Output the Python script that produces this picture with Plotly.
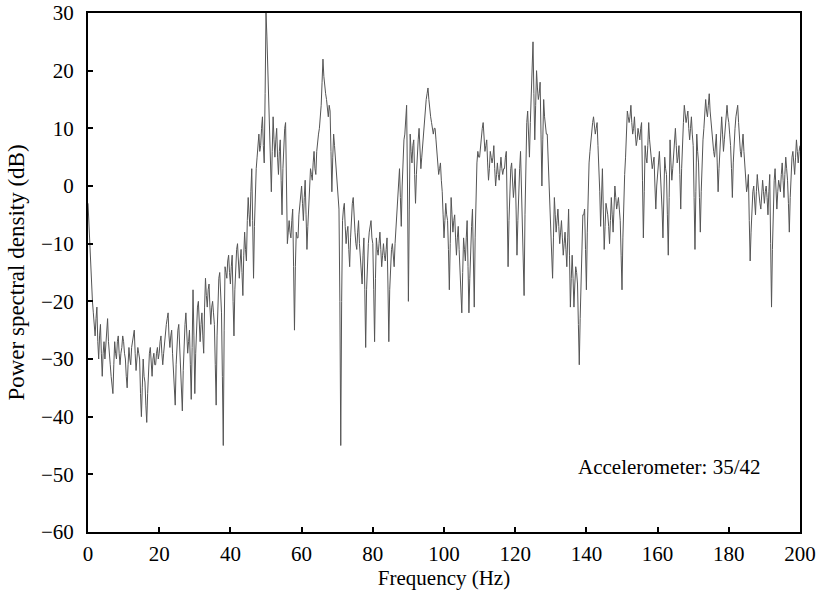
import plotly.graph_objects as go

# Power spectral density (dB).
# psd_db_a: samples at 0, 0.5, 1.0 ... 200 Hz (10 values per 5 Hz block)
psd_db_a = [
    -3, -11, -17, -22, -26, -21, -30, -24, -33, -27,      # 0
    -28, -23, -30, -33, -36, -27, -30, -26, -31, -28,     # 5
    -27, -30, -35, -28, -31, -27, -25, -32, -28, -30,     # 10
    -40, -30, -34, -41, -31, -28, -33, -29, -31, -28,     # 15
    -29, -26, -31, -27, -24, -22, -28, -25, -33, -38,     # 20
    -27, -24, -30, -39, -26, -22, -29, -25, -37, -18,     # 25
    -36, -24, -20, -27, -22, -29, -16, -21, -17, -24,     # 30
    -20, -24, -38, -18, -15, -22, -45, -14, -16, -12,     # 35
    -17, -12, -26, -13, -10, -16, -11, -19, -8, -13,      # 40
    -2, -7, 3, -16, -1, 5, 9, 7, 12, 4,                   # 45
    30, 20, 9, -1, 12, 5, 10, 2, 8, -5,                   # 50
    9, 11, -10, -6, -9, -4, -25, -8, -9, -3,              # 55
    0, -6, 1, -11, -4, 3, 1, 6, 2, 8,                     # 60
    10, 14, 22, 17, 15, 12, 13, -1, 9, 5,                 # 65
    1, -4, -45, -6, -3, -10, -7, -14, -5, -2,             # 70
    -8, -11, -6, -13, -17, -9, -28, -12, -8, -6,          # 75
    -10, -27, -9, -12, -8, -14, -10, -13, -9, -27,        # 80
    -12, -10, -14, -7, -3, 3, -7, 6, 9, 14,               # 85
    -20, 9, 4, 8, -3, 6, 10, 3, 7, 12,                    # 90
    15, 17, 13, 11, 9, 10, 6, 2, 4, -1,                   # 95
    -9, -3, -6, -18, -2, -8, -5, -12, -7, -15,            # 100
    -22, -9, -13, -6, -22, -10, -4, -21, 2, 6,            # 105
    5, 9, 11, 6, 8, 1, 6, 4, 7, 0,                        # 110
    4, 1, 5, 2, 3, 6, -14, 1, 4, -2,                      # 115
    3, -12, 0, 6, -5, -19, 8, 13, 5, 17,                  # 120
    25, 8, 20, 15, 18, 0, 15, 10, 9, 2,                   # 125
    -5, -16, -2, -8, -4, -10, -6, -12, -8, -14,           # 130
    -4, -21, -12, -21, -14, -17, -31, -15, -5, -4,        # 135
    -18, 2, 6, 10, 12, 9, 11, 4, -7, 3,                   # 140
    -11, -3, -5, -10, -2, -8, 0, -4, -2, -6,              # 145
    -18, -1, 5, 13, 11, 14, 9, 12, 7, 10,                 # 150
    8, 11, -9, 7, 4, 11, 6, 3, 5, -4,                     # 155
    3, 6, 1, -9, 5, 2, -12, 8, 1, 6,                      # 160
    10, 4, 7, -4, 9, 14, 11, 13, 8, 12,                   # 165
    7, -11, 9, 4, -8, 6, 10, 15, 12, 16,                  # 170
    11, 8, 5, 9, -1, 7, 12, 6, 10, 14,                    # 175
    11, 7, -2, 9, 12, 14, 8, 5, 9, 3,                     # 180
    -1, 2, -13, -3, 0, -5, 2, -2, -4, 1,                  # 185
    -3, 0, -5, 2, -21, -2, 3, -4, 1, -1,                  # 190
    4, -2, 5, 1, -8, 3, 6, 2, 8, 4,                       # 195
    7,                                                    # 200
]
# psd_db_b: samples at 0.25, 0.75, 1.25 ... 199.75 Hz
psd_db_b = [
    -7, -15, -20, -25, -23, -27, -26, -29, -29, -30,      # 0
    -25, -27, -31, -35, -31, -29, -27, -29, -29, -26,     # 5
    -29, -33, -31, -30, -28, -26, -29, -30, -29, -36,     # 10
    -35, -33, -38, -36, -29, -31, -30, -31, -29, -30,     # 15
    -27, -29, -29, -25, -23, -26, -26, -29, -36, -31,     # 20
    -25, -28, -35, -32, -24, -26, -27, -31, -28, -26,     # 25
    -29, -21, -24, -24, -26, -21, -19, -18, -21, -21,     # 30
    -22, -31, -26, -16, -19, -33, -25, -15, -13, -15,     # 35
    -14, -20, -18, -11, -13, -13, -15, -12, -11, -6,      # 40
    -5, -1, -6, -7, 3, 7, 6, 10, 7, 16,                   # 45
    26, 13, 3, 6, 8, 8, 5, 6, 1, 3,                       # 50
    10, 2, -8, -8, -6, -14, -14, -9, -5, -2,              # 55
    -3, -2, -5, -7, 0, 2, 4, 3, 6, 9,                     # 60
    12, 18, 19, 16, 13, 14, 6, 5, 7, 3,                   # 65
    -2, -20, -20, -4, -7, -8, -11, -9, -3, -6,            # 70
    -10, -8, -10, -15, -12, -18, -18, -10, -7, -9,        # 75
    -18, -16, -11, -10, -11, -12, -12, -11, -17, -18,     # 80
    -11, -12, -10, -5, 0, -2, 0, 8, 12, 0,                # 85
    -4, 6, 7, 2, 2, 8, 6, 5, 10, 14,                      # 90
    16, 15, 12, 10, 10, 8, 4, 3, 1, -5,                   # 95
    -6, -5, -11, -10, -5, -6, -9, -9, -11, -18,           # 100
    -15, -11, -9, -14, -16, -7, -12, -9, 4, 5,            # 105
    7, 10, 8, 7, 4, 3, 5, 5, 3, 2,                        # 110
    2, 3, 3, 3, 5, -4, -6, 3, 1, 0,                       # 115
    -4, -6, 3, 0, -12, -5, 11, 9, 11, 21,                 # 120
    16, 14, 17, 16, 9, 8, 12, 9, 5, -1,                   # 125
    -10, -9, -5, -6, -7, -8, -9, -10, -11, -9,            # 130
    -12, -16, -16, -17, -15, -24, -23, -10, -5, -11,      # 135
    -8, 4, 8, 11, 10, 10, 7, -1, -2, -4,                  # 140
    -7, -4, -7, -6, -5, -4, -2, -3, -4, -12,              # 145
    -9, 2, 9, 12, 12, 11, 10, 9, 8, 9,                    # 150
    10, 1, -1, 5, 7, 8, 4, 4, 0, 0,                       # 155
    4, 3, -4, -2, 3, -5, -2, 4, 3, 8,                     # 160
    7, 5, 2, 3, 11, 12, 12, 10, 10, 9,                    # 165
    -2, -1, 6, -2, -1, 8, 12, 13, 14, 13,                 # 170
    9, 6, 7, 4, 3, 10, 9, 8, 12, 12,                      # 175
    9, 3, 4, 10, 13, 11, 6, 7, 6, 1,                      # 180
    0, -6, -8, -1, -3, -1, 0, -3, -1, -1,                 # 185
    -1, -2, -1, -10, -11, 1, 0, -1, 0, 2,                 # 190
    1, 2, 3, -3, -2, 5, 4, 5, 6, 6,                       # 195
]

freq_hz = []
psd_db = []
for i, v in enumerate(psd_db_a):
    freq_hz.append(i * 0.5)
    psd_db.append(v)
    if i < len(psd_db_b):
        freq_hz.append(i * 0.5 + 0.25)
        psd_db.append(psd_db_b[i])

x_ticks = [0, 20, 40, 60, 80, 100, 120, 140, 160, 180, 200]
y_ticks = [-60, -50, -40, -30, -20, -10, 0, 10, 20, 30]

font_family = "Liberation Serif, Times New Roman, serif"

fig = go.Figure()
fig.add_trace(go.Scatter(
    x=freq_hz, y=psd_db, mode="lines",
    line=dict(color="#555555", width=1),
    showlegend=False, hoverinfo="skip",
))

fig.add_annotation(
    x=189.6, y=-48.7, xref="x", yref="y",
    text="Accelerometer: 35/42", showarrow=False,
    xanchor="right", yanchor="middle",
    font=dict(family=font_family, size=21, color="black"),
)

axis_common = dict(
    showline=True, linecolor="black", linewidth=2, mirror=True,
    showgrid=False, zeroline=False, automargin=False,
    ticks="inside", ticklen=5, tickwidth=1.5, tickcolor="black",
    tickfont=dict(family=font_family, size=21, color="black"),
)

fig.update_layout(
    width=816, height=598,
    margin=dict(l=88, r=16, t=13, b=66),
    paper_bgcolor="white", plot_bgcolor="white",
    xaxis=dict(
        range=[0, 200], tickvals=x_ticks, ticklabelstandoff=2,
        title=dict(text="Frequency (Hz)", standoff=4,
                   font=dict(family=font_family, size=21, color="black")),
        **axis_common,
    ),
    yaxis=dict(
        range=[-60, 30], tickvals=y_ticks, ticklabelstandoff=8,
        title=dict(text="Power spectral density (dB)", standoff=10,
                   font=dict(family=font_family, size=23, color="black")),
        **axis_common,
    ),
)

# Remove the default page margin so the 816x598 figure fills the window exactly.
fig.write_html(
    "out.html",
    config={"displayModeBar": False},
    post_script="document.body.style.margin='0';",
)
